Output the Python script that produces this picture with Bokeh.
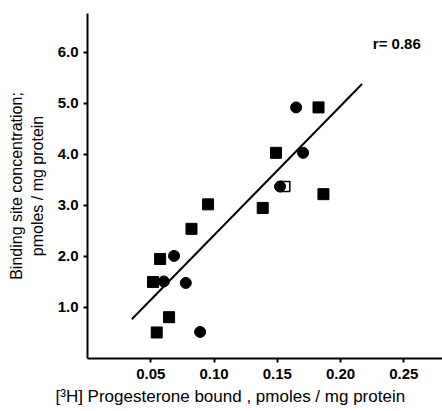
from bokeh.plotting import figure
from bokeh.models import Range1d, FixedTicker, Title, Label
from bokeh.embed import file_html
from bokeh.resources import INLINE

# Data
square_x = [0.0518, 0.0574, 0.0547, 0.0645, 0.0822, 0.0953, 0.1385, 0.1490, 0.1826, 0.1865]
square_y = [1.50, 1.95, 0.51, 0.81, 2.54, 3.02, 2.95, 4.03, 4.92, 3.22]
circle_x = [0.0603, 0.0684, 0.0777, 0.0890, 0.1522, 0.1649, 0.1704]
circle_y = [1.51, 2.01, 1.48, 0.52, 3.37, 4.92, 4.03]
open_x = [0.1560]
open_y = [3.37]
fit_x = [0.035, 0.217]
fit_y = [0.77, 5.38]
x_ticks = [0.05, 0.10, 0.15, 0.20, 0.25]
x_tick_labels = ["0.05", "0.10", "0.15", "0.20", "0.25"]
y_ticks = [1, 2, 3, 4, 5, 6]
y_tick_labels = ["1.0", "2.0", "3.0", "4.0", "5.0", "6.0"]
r_text = "r= 0.86"
x_label = "[\u00b3H] Progesterone bound ,  pmoles / mg protein"
y_label = "Binding site concentration;\npmoles / mg protein"

TICK_FONT = "Liberation Sans"
LABEL_FONT = "Liberation Sans"

p = figure(width=442, height=411,
           x_range=Range1d(0, 0.2806), y_range=Range1d(0, 6.76),
           output_backend="svg", toolbar_location=None,
           min_border_left=87, min_border_right=0,
           min_border_top=13, min_border_bottom=53)

p.grid.visible = False
p.outline_line_color = None
p.background_fill_color = "white"
p.border_fill_color = "white"

for ax in (p.xaxis[0], p.yaxis[0]):
    ax.axis_line_width = 2
    ax.axis_line_color = "black"
    ax.major_tick_line_width = 2
    ax.major_tick_line_color = "black"
    ax.major_tick_in = 0
    ax.major_tick_out = 4
    ax.minor_tick_line_color = None
    ax.major_label_text_font = TICK_FONT
    ax.major_label_text_font_style = "bold"
    ax.major_label_text_font_size = "15px"
    ax.major_label_text_color = "black"

p.xaxis.ticker = FixedTicker(ticks=x_ticks)
p.xaxis.major_label_overrides = {t: l for t, l in zip(x_ticks, x_tick_labels)}
p.xaxis.major_label_standoff = 6
p.yaxis.ticker = FixedTicker(ticks=y_ticks)
p.yaxis.major_label_overrides = {t: l for t, l in zip(y_ticks, y_tick_labels)}
p.yaxis.major_label_standoff = 5

p.yaxis.axis_label = y_label
p.yaxis.axis_label_text_font = LABEL_FONT
p.yaxis.axis_label_text_font_style = "normal"
p.yaxis.axis_label_text_font_size = "16px"
p.yaxis.axis_label_text_color = "black"
p.yaxis.axis_label_standoff = 9

p.line(fit_x, fit_y, line_color="black", line_width=2)
p.scatter(square_x, square_y, marker="square", size=11, fill_color="black", line_color="black")
p.scatter(open_x, open_y, marker="square", size=10, fill_color="white", line_color="black", line_width=1.5)
p.scatter(circle_x, circle_y, marker="circle", size=11, fill_color="black", line_color="black")

p.add_layout(Label(x=0.2255, y=6.18, text=r_text, text_font=TICK_FONT,
                   text_font_style="bold", text_font_size="15px",
                   text_baseline="middle", text_color="black"))

p.add_layout(Title(text=x_label, align="left", offset=-32,
                   text_font=LABEL_FONT, text_font_style="normal",
                   text_font_size="17px", text_color="black", standoff=6), "below")

open("out.html", "w").write(file_html(p, INLINE))
